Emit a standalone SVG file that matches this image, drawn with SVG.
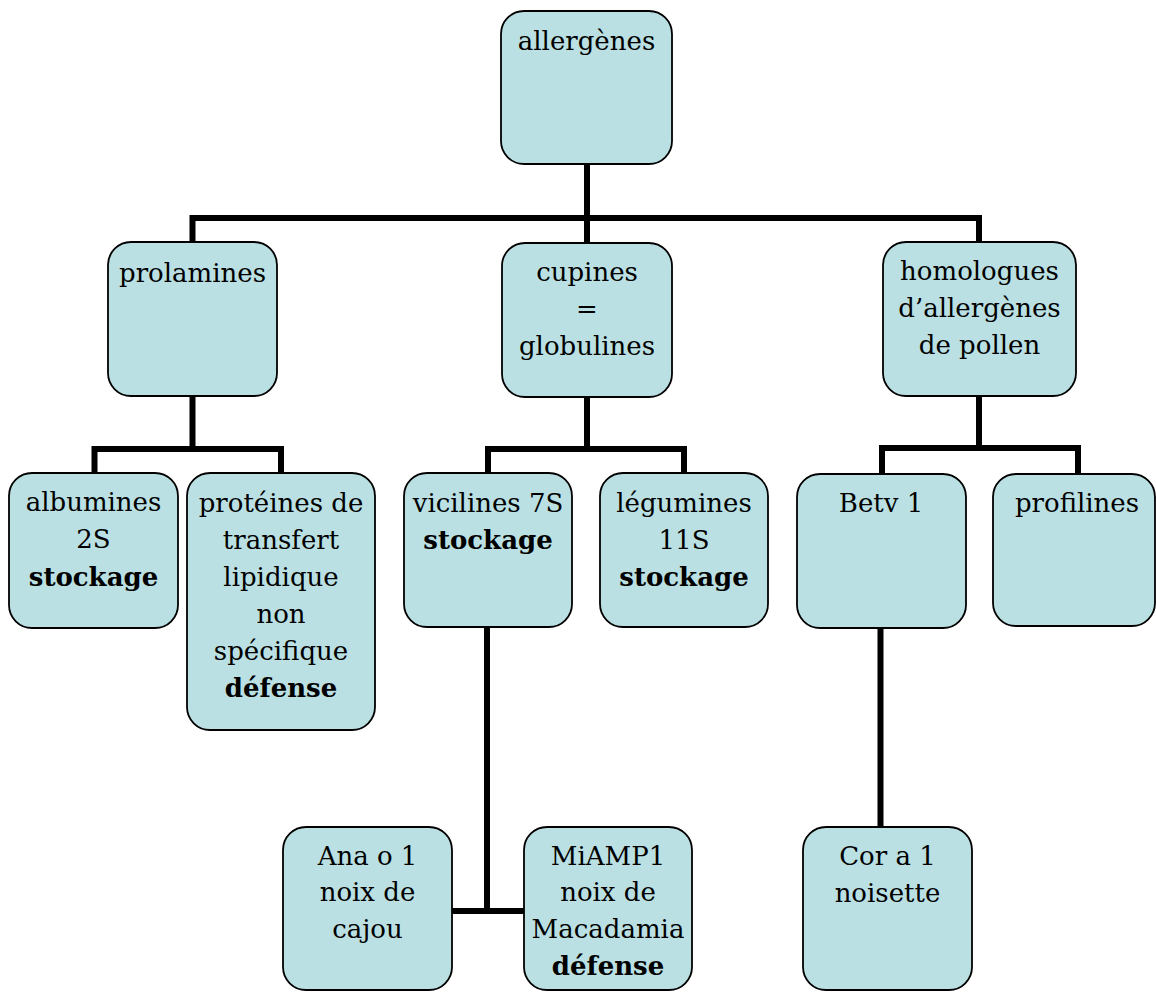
<svg xmlns="http://www.w3.org/2000/svg" width="1156" height="992" viewBox="0 0 1156 992">
<style>
.box{fill:#bae0e3;stroke:#000;stroke-width:1.8}
.c{fill:none;stroke:#000;stroke-width:6;stroke-linejoin:miter}
</style>
<rect width="1156" height="992" fill="#fff"/>
<g id="connectors">
<path class="c" d="M587 164 V243 M192.5 242 V218 H979 V242"/>
<path class="c" d="M192.5 396 V449 M94.5 473 V449 H281 V473"/>
<path class="c" d="M587 397 V449 M488 473 V449 H684 V473"/>
<path class="c" d="M979 396 V448 M882 474 V448 H1078 V474"/>
<path class="c" d="M487 627 V911 M452 911 H524"/>
<path class="c" d="M880.5 628 V827"/>
</g>
<g id="allergenes"><rect class="box" x="501" y="11" width="171" height="153" rx="23"/>
<text font-family="DejaVu Serif" font-size="26" text-anchor="middle" x="586.5" y="50">allergènes</text></g>
<g id="prolamines"><rect class="box" x="108" y="242" width="169" height="154" rx="23"/>
<text font-family="DejaVu Serif" font-size="26" text-anchor="middle" x="192.5" y="282">prolamines</text></g>
<g id="cupines"><rect class="box" x="502" y="243" width="170" height="154" rx="23"/>
<text font-family="DejaVu Serif" font-size="26" text-anchor="middle" x="587" y="281">cupines</text>
<text font-family="DejaVu Serif" font-size="26" text-anchor="middle" x="587" y="318">=</text>
<text font-family="DejaVu Serif" font-size="26" text-anchor="middle" x="587" y="355">globulines</text></g>
<g id="homologues"><rect class="box" x="883" y="242" width="193" height="154" rx="23"/>
<text font-family="DejaVu Serif" font-size="26" text-anchor="middle" x="979.5" y="280">homologues</text>
<text font-family="DejaVu Serif" font-size="26" text-anchor="middle" x="979.5" y="317">d’allergènes</text>
<text font-family="DejaVu Serif" font-size="26" text-anchor="middle" x="979.5" y="354">de pollen</text></g>
<g id="albumines"><rect class="box" x="9" y="473" width="169" height="155" rx="23"/>
<text font-family="DejaVu Serif" font-size="26" text-anchor="middle" x="93.5" y="511">albumines</text>
<text font-family="DejaVu Serif" font-size="26" text-anchor="middle" x="93.5" y="548">2S</text>
<text font-family="DejaVu Serif" font-size="26" text-anchor="middle" font-weight="bold" x="93.5" y="586">stockage</text></g>
<g id="proteines"><rect class="box" x="187" y="473" width="188" height="257" rx="23"/>
<text font-family="DejaVu Serif" font-size="26" text-anchor="middle" x="281" y="512">protéines de</text>
<text font-family="DejaVu Serif" font-size="26" text-anchor="middle" x="281" y="549">transfert</text>
<text font-family="DejaVu Serif" font-size="26" text-anchor="middle" x="281" y="586">lipidique</text>
<text font-family="DejaVu Serif" font-size="26" text-anchor="middle" x="281" y="623">non</text>
<text font-family="DejaVu Serif" font-size="26" text-anchor="middle" x="281" y="660">spécifique</text>
<text font-family="DejaVu Serif" font-size="26" text-anchor="middle" font-weight="bold" x="281" y="697">défense</text></g>
<g id="vicilines"><rect class="box" x="404" y="473" width="168" height="154" rx="23"/>
<text font-family="DejaVu Serif" font-size="26" text-anchor="middle" x="488" y="512">vicilines 7S</text>
<text font-family="DejaVu Serif" font-size="26" text-anchor="middle" font-weight="bold" x="488" y="549">stockage</text></g>
<g id="legumines"><rect class="box" x="600" y="473" width="168" height="154" rx="23"/>
<text font-family="DejaVu Serif" font-size="26" text-anchor="middle" x="684" y="512">légumines</text>
<text font-family="DejaVu Serif" font-size="26" text-anchor="middle" x="684" y="549">11S</text>
<text font-family="DejaVu Serif" font-size="26" text-anchor="middle" font-weight="bold" x="684" y="586">stockage</text></g>
<g id="betv1"><rect class="box" x="797" y="474" width="169" height="154" rx="23"/>
<text font-family="DejaVu Serif" font-size="26" text-anchor="middle" x="881" y="512">Betv 1</text></g>
<g id="profilines"><rect class="box" x="993" y="474" width="162" height="152" rx="23"/>
<text font-family="DejaVu Serif" font-size="26" text-anchor="middle" x="1077" y="512">profilines</text></g>
<g id="anao1"><rect class="box" x="283" y="827" width="169" height="163" rx="23"/>
<text font-family="DejaVu Serif" font-size="26" text-anchor="middle" x="367.5" y="865">Ana o 1</text>
<text font-family="DejaVu Serif" font-size="26" text-anchor="middle" x="367.5" y="901">noix de</text>
<text font-family="DejaVu Serif" font-size="26" text-anchor="middle" x="367.5" y="938">cajou</text></g>
<g id="miamp1"><rect class="box" x="524" y="827" width="168" height="163" rx="23"/>
<text font-family="DejaVu Serif" font-size="26" text-anchor="middle" x="608" y="865">MiAMP1</text>
<text font-family="DejaVu Serif" font-size="26" text-anchor="middle" x="608" y="901">noix de</text>
<text font-family="DejaVu Serif" font-size="26" text-anchor="middle" x="608" y="938">Macadamia</text>
<text font-family="DejaVu Serif" font-size="26" text-anchor="middle" font-weight="bold" x="608" y="975">défense</text></g>
<g id="cora1"><rect class="box" x="803" y="827" width="169" height="163" rx="23"/>
<text font-family="DejaVu Serif" font-size="26" text-anchor="middle" x="887.5" y="865">Cor a 1</text>
<text font-family="DejaVu Serif" font-size="26" text-anchor="middle" x="887.5" y="902">noisette</text></g>
</svg>
